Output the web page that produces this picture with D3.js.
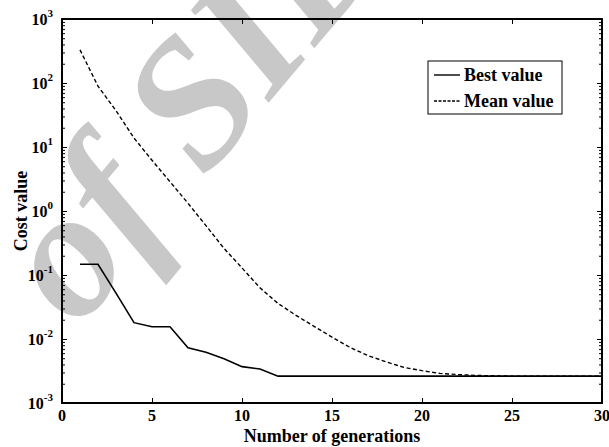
<!DOCTYPE html>
<html>
<head>
<meta charset="utf-8">
<script src="https://cdn.jsdelivr.net/npm/d3@7"></script>
<style>
  html, body { margin: 0; padding: 0; background: #fff; }
  svg { display: block; }
  text { font-family: "Liberation Serif", "Times New Roman", serif; font-weight: bold; fill: #000; }
</style>
</head>
<body>
<svg id="chart" width="609" height="447"></svg>
<script>
// ---- data ----
const generations = [1,2,3,4,5,6,7,8,9,10,11,12,13,14,15,16,17,18,19,20,21,22,23,24,25,26,27,28,29,30];
const bestValue = [0.147,0.147,0.052,0.018,0.0155,0.0155,0.0073,0.0062,0.0049,0.0037,0.0034,0.00263,0.00263,0.00263,0.00263,0.00263,0.00263,0.00263,0.00263,0.00263,0.00263,0.00263,0.00263,0.00263,0.00263,0.00263,0.00263,0.00263,0.00263,0.00263];
const meanValue = [330,89,37,13.8,6.2,2.87,1.32,0.59,0.26,0.129,0.063,0.036,0.0234,0.0158,0.0107,0.0074,0.0055,0.0044,0.0036,0.0032,0.0029,0.00278,0.0027,0.00266,0.00263,0.00263,0.00263,0.00263,0.00263,0.00263];
const xTicks = [0,5,10,15,20,25,30];
const yExponents = [-3,-2,-1,0,1,2,3];
const seriesNames = ["Best value","Mean value"];
const xTitle = "Number of generations";
const yTitle = "Cost value";
const watermark = "of SID";

// ---- layout ----
const W = 609, H = 447;
const m = {left: 62, right: 7, top: 19, bottom: 44};
const svg = d3.select("#chart");

const x = d3.scaleLinear().domain([0,30]).range([m.left, W - m.right]);
const y = d3.scaleLog().domain([1e-3, 1e3]).range([H - m.bottom, m.top]);

// watermark
svg.append("text")
  .attr("transform", "translate(78,330) rotate(-50)")
  .style("font-family", "'Liberation Serif', serif")
  .style("font-style", "italic")
  .style("font-weight", "bold")
  .style("font-size", "182px")
  .style("fill", "#c8c8c8")
  .text(watermark);

// data lines
const line = d3.line().x((d,i) => x(generations[i])).y(d => y(d));
svg.append("path").datum(bestValue)
  .attr("d", line).attr("fill","none").attr("stroke","#000").attr("stroke-width",1.6);
svg.append("path").datum(meanValue)
  .attr("d", line).attr("fill","none").attr("stroke","#000").attr("stroke-width",1.4)
  .attr("stroke-dasharray","4,2.5");

// axes (ticks inside)
const minorVals = [];
for (let e = -3; e < 3; e++) for (let k = 2; k <= 9; k++) minorVals.push(k * Math.pow(10, e));

const g = svg.append("g");
const bottomAxis = d3.axisBottom(x).tickValues(xTicks).tickSize(-5).tickFormat("");
const topAxis = d3.axisTop(x).tickValues(xTicks).tickSize(-5).tickFormat("");
const leftAxis = d3.axisLeft(y).tickValues(yExponents.map(e => Math.pow(10,e))).tickSize(-5).tickFormat("");
const rightAxis = d3.axisRight(y).tickValues(yExponents.map(e => Math.pow(10,e))).tickSize(-5).tickFormat("");
const leftMinor = d3.axisLeft(y).tickValues(minorVals).tickSize(-3).tickFormat("");
const rightMinor = d3.axisRight(y).tickValues(minorVals).tickSize(-3).tickFormat("");

function styleAxis(sel){ sel.select(".domain").remove(); sel.selectAll("line").attr("stroke","#000").attr("stroke-width",1); }
g.append("g").attr("transform",`translate(0,${H-m.bottom})`).call(bottomAxis).call(styleAxis);
g.append("g").attr("transform",`translate(0,${m.top})`).call(topAxis).call(styleAxis);
g.append("g").attr("transform",`translate(${m.left},0)`).call(leftAxis).call(styleAxis);
g.append("g").attr("transform",`translate(${W-m.right},0)`).call(rightAxis).call(styleAxis);
g.append("g").attr("transform",`translate(${m.left},0)`).call(leftMinor).call(styleAxis);
g.append("g").attr("transform",`translate(${W-m.right},0)`).call(rightMinor).call(styleAxis);

// frame
svg.append("rect")
  .attr("x", m.left).attr("y", m.top)
  .attr("width", W - m.left - m.right).attr("height", H - m.top - m.bottom)
  .attr("fill","none").attr("stroke","#000").attr("stroke-width",2);

// x tick labels
svg.append("g").selectAll("text").data(xTicks).join("text")
  .attr("x", d => x(d)).attr("y", H - m.bottom + 18)
  .attr("text-anchor","middle").style("font-size","16px")
  .text(d => d);

// y tick labels 10^e
const yl = svg.append("g").selectAll("text").data(yExponents).join("text")
  .attr("x", m.left - 9).attr("y", d => y(Math.pow(10,d)) + 6)
  .attr("text-anchor","end").style("font-size","16px");
yl.append("tspan").text("10");
yl.append("tspan").attr("dy", -8).style("font-size","11px").text(d => d);

// axis titles
svg.append("text").attr("x", (m.left + W - m.right)/2).attr("y", 442)
  .attr("text-anchor","middle").style("font-size","18px").text(xTitle);
svg.append("text").attr("transform", `translate(27,${(m.top + H - m.bottom)/2}) rotate(-90)`)
  .attr("text-anchor","middle").style("font-size","18px").text(yTitle);

// legend
const lg = svg.append("g");
lg.append("rect").attr("x",428).attr("y",61).attr("width",134).attr("height",53)
  .attr("fill","#fff").attr("stroke","#000").attr("stroke-width",1);
seriesNames.forEach((name, i) => {
  const yy = 75 + i * 26;
  lg.append("line").attr("x1",434).attr("x2",460).attr("y1",yy).attr("y2",yy)
    .attr("stroke","#000").attr("stroke-width", 1.4)
    .attr("stroke-dasharray", i === 1 ? "3,1.5" : null);
  lg.append("text").attr("x",464).attr("y",yy + 6).style("font-size","18px").text(name);
});
</script>
</body>
</html>
